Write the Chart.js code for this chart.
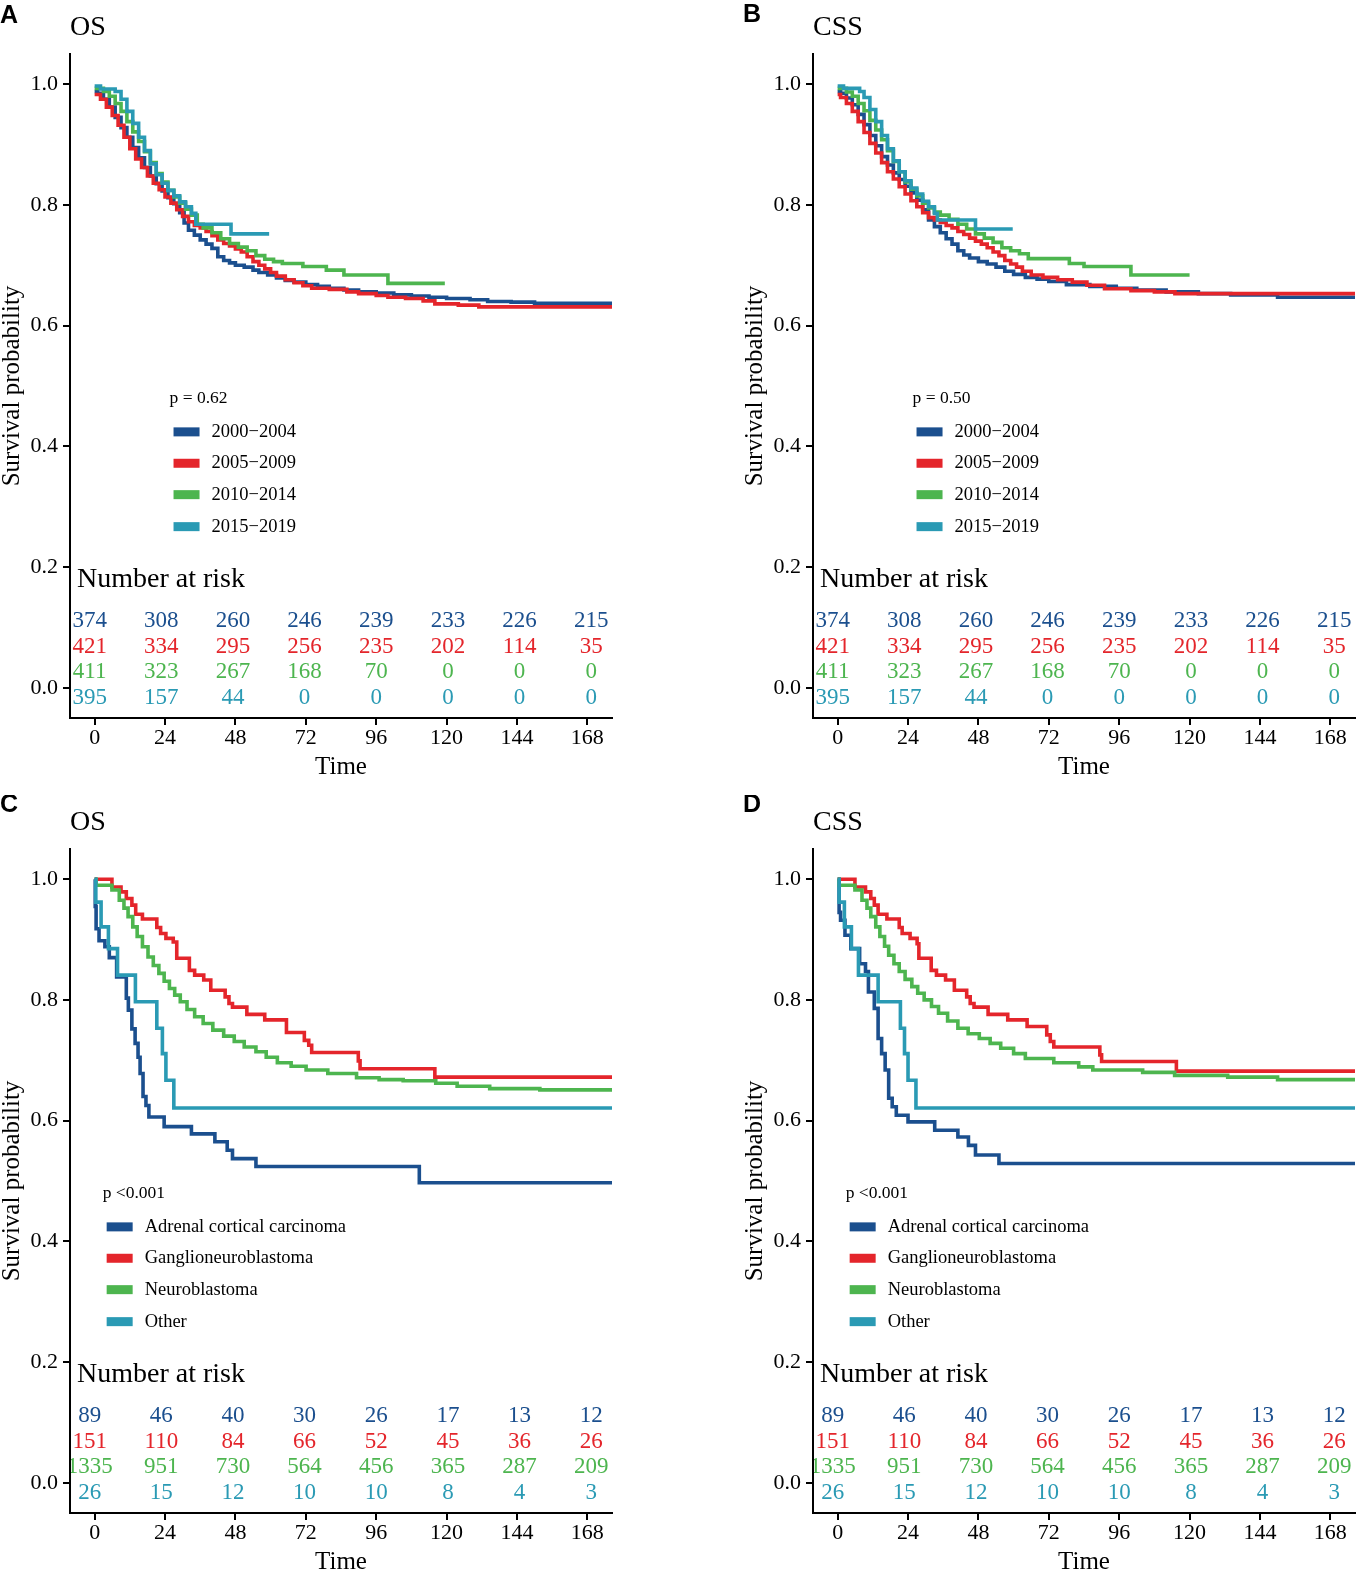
<!DOCTYPE html>
<html lang="en">
<head>
    <meta charset="UTF-8">
    <title>Kaplan-Meier curves</title>
    <style>
        html, body { margin: 0; padding: 0; background: #fff; overflow: hidden; }
        .page { position: relative; width: 1358px; height: 1570px; }
        .panel { position: absolute; }
    </style>
</head>
<body>
    <div class="page">
        <canvas class="panel" id="panelA" width="615" height="795" style="left:0;top:0"></canvas>
        <canvas class="panel" id="panelB" width="615" height="795" style="left:743px;top:0"></canvas>
        <canvas class="panel" id="panelC" width="615" height="795" style="left:0;top:795px"></canvas>
        <canvas class="panel" id="panelD" width="615" height="795" style="left:743px;top:795px"></canvas>
    </div>

    <script src="https://cdn.jsdelivr.net/npm/chart.js@4.4.0/dist/chart.umd.min.js"></script>
    <script>
        // Axis ticks
        const timeTicks = [0, 24, 48, 72, 96, 120, 144, 168];
        const probTicks = [0, 0.2, 0.4, 0.6, 0.8, 1.0];

        // Group labels
        const periodGroups = ['2000\u22122004', '2005\u22122009', '2010\u22122014', '2015\u22122019'];
        const histGroups = ['Adrenal cortical carcinoma', 'Ganglioneuroblastoma', 'Neuroblastoma', 'Other'];

        // Panel A - OS by period, [time, survival]
        const osP2000 = [[0,0.988],[1,0.985],[3,0.975],[5,0.962],[7,0.945],[9,0.928],[11,0.912],[13,0.895],[15,0.878],[17,0.862],[19,0.848],[21,0.835],[23,0.823],[25,0.812],[27,0.802],[29,0.787],[30.5,0.770],[32,0.758],[34,0.750],[36,0.742],[38,0.735],[40,0.728],[42,0.714],[44,0.708],[46,0.704],[48,0.700],[51,0.697],[54,0.692],[56,0.688],[59,0.684],[62,0.679],[65,0.675],[68,0.672],[72,0.668],[76,0.665],[80,0.662],[85,0.659],[90,0.656],[96,0.654],[102,0.651],[108,0.649],[114,0.647],[120,0.645],[128,0.643],[134,0.640],[142,0.639],[150,0.637],[176.4,0.637]];
        const osP2005 = [[0,0.983],[2,0.975],[4,0.962],[6,0.948],[8,0.932],[10,0.912],[12,0.893],[14,0.876],[16,0.862],[18,0.848],[20,0.836],[22,0.825],[24,0.813],[26,0.803],[28,0.792],[30,0.781],[32,0.772],[34,0.766],[36,0.762],[38,0.756],[40,0.749],[42,0.742],[44,0.736],[46,0.732],[48,0.727],[50,0.722],[52,0.714],[54,0.706],[56,0.700],[58,0.694],[60,0.688],[62,0.682],[65,0.676],[68,0.671],[71,0.666],[74,0.662],[80,0.660],[86,0.656],[90,0.653],[96,0.650],[100,0.647],[106,0.645],[112,0.641],[116,0.636],[124,0.634],[131,0.631],[176.4,0.631]];
        const osP2010 = [[0,0.993],[3,0.988],[5,0.980],[7,0.968],[9,0.955],[11,0.938],[13,0.921],[15,0.905],[17,0.888],[19,0.870],[21,0.852],[23,0.838],[25,0.824],[27,0.813],[29,0.803],[31,0.793],[33,0.783],[35,0.768],[37,0.762],[40,0.754],[43,0.744],[46,0.736],[49,0.730],[52,0.724],[55,0.716],[58,0.710],[61,0.706],[64,0.703],[71,0.698],[79,0.692],[85,0.684],[100,0.670],[119.4,0.670]];
        const osP2015 = [[0,0.997],[2,0.992],[7,0.988],[9,0.975],[11,0.955],[13,0.935],[15,0.912],[17,0.890],[19,0.868],[21,0.850],[23,0.836],[25,0.824],[27,0.815],[29,0.805],[31,0.797],[33,0.786],[34.5,0.768],[46.5,0.752],[59.5,0.752]];

        // Panel B - CSS by period
        const cssP2000 = [[0,0.988],[1,0.985],[3,0.977],[5,0.966],[7,0.950],[9,0.933],[11,0.915],[13,0.898],[15,0.880],[17,0.866],[19,0.853],[21,0.842],[23,0.831],[25,0.820],[27,0.808],[29,0.792],[31,0.775],[33,0.764],[35,0.754],[37,0.744],[39,0.735],[41,0.724],[43,0.717],[45,0.712],[48,0.706],[51,0.702],[54,0.697],[57,0.690],[60,0.685],[64,0.680],[68,0.677],[72,0.673],[78,0.668],[86,0.665],[95,0.662],[102,0.659],[112,0.656],[123,0.653],[134,0.651],[150,0.647],[176.4,0.647]];
        const cssP2005 = [[0,0.983],[1,0.978],[3,0.968],[5,0.955],[7,0.938],[9,0.920],[11,0.902],[13,0.886],[15,0.870],[17,0.855],[19,0.843],[21,0.830],[23,0.818],[25,0.807],[27,0.797],[29,0.787],[31,0.779],[33,0.775],[35,0.771],[37,0.766],[39,0.762],[41,0.756],[43,0.751],[45,0.745],[47,0.740],[49,0.735],[51,0.729],[53,0.722],[55,0.716],[57,0.708],[59,0.702],[61,0.697],[63,0.690],[66,0.684],[70,0.680],[75,0.676],[80,0.672],[85,0.667],[91,0.661],[100,0.658],[108,0.656],[115,0.653],[176.4,0.653]];
        const cssP2010 = [[0,0.993],[3,0.987],[5,0.980],[7,0.968],[9,0.956],[11,0.940],[13,0.924],[15,0.908],[17,0.890],[19,0.872],[21,0.855],[23,0.838],[25,0.826],[27,0.815],[29,0.803],[31,0.795],[33,0.788],[35,0.783],[38,0.776],[41,0.768],[44,0.760],[47,0.752],[50,0.745],[53,0.738],[56,0.729],[59,0.724],[62,0.719],[65,0.711],[79,0.703],[84,0.698],[100,0.684],[120,0.684]];
        const cssP2015 = [[0,0.997],[2,0.993],[7.5,0.988],[9,0.978],[11,0.958],[13,0.938],[15,0.915],[17,0.893],[19,0.873],[21,0.855],[23,0.840],[25,0.828],[27,0.818],[29,0.806],[31,0.797],[33,0.786],[34,0.775],[47,0.760],[59.7,0.760]];

        // Panel C - OS by histology
        const osAcc = [[0,1],[0.2,0.955],[0.5,0.918],[1.5,0.898],[3.5,0.888],[5,0.870],[7.5,0.838],[10.8,0.803],[11.5,0.783],[12.7,0.752],[13.8,0.728],[14.8,0.705],[15.5,0.678],[16.5,0.640],[17.5,0.625],[18.5,0.606],[23.7,0.590],[33,0.578],[41,0.565],[45.2,0.551],[47,0.537],[55,0.524],[110.7,0.497],[176.4,0.497]];
        const osGnb = [[0,1],[5.9,0.987],[9,0.979],[10.8,0.968],[12.7,0.957],[14,0.942],[16.3,0.934],[21.2,0.920],[22.5,0.910],[24.3,0.902],[26.8,0.896],[28,0.869],[32.3,0.849],[34.1,0.841],[37.2,0.833],[39.6,0.816],[44.5,0.805],[45.8,0.794],[47,0.788],[51.9,0.776],[58,0.767],[65.4,0.746],[71.5,0.733],[73,0.725],[74,0.713],[89.9,0.699],[90.5,0.686],[116,0.672],[176.4,0.672]];
        const osNb = [[0,1],[0.5,0.990],[5.9,0.982],[8.4,0.965],[10,0.952],[11.4,0.938],[13,0.921],[14.5,0.905],[16.3,0.888],[18.2,0.871],[20,0.857],[21.9,0.844],[23.7,0.831],[25.5,0.819],[27.3,0.808],[29.2,0.797],[31.5,0.784],[34.1,0.772],[37,0.761],[40.3,0.750],[44,0.740],[47.6,0.731],[51,0.722],[55,0.714],[58.5,0.705],[62.3,0.696],[67,0.690],[72.1,0.684],[79.5,0.678],[89.3,0.671],[97,0.668],[105.2,0.666],[116.3,0.662],[123.6,0.657],[134.7,0.653],[151.8,0.651],[176.4,0.651]];
        const osOther = [[0,1],[0.4,0.962],[2.2,0.921],[4.7,0.885],[7.8,0.841],[13.9,0.797],[21.2,0.753],[23.1,0.711],[24.3,0.667],[27,0.621],[176.4,0.621]];

        // Panel D - CSS by histology
        const cssAcc = [[0,1],[0.5,0.945],[1,0.932],[2.5,0.907],[4.5,0.885],[7.5,0.860],[9.5,0.847],[10.5,0.813],[12.5,0.786],[13.8,0.736],[15,0.711],[16.2,0.684],[17.4,0.637],[18.6,0.623],[20,0.609],[24,0.598],[33.1,0.584],[41,0.573],[44.6,0.559],[47,0.543],[55,0.529],[176.4,0.529]];
        const cssGnb = [[0,1],[5.9,0.987],[9.5,0.979],[11.3,0.968],[12.5,0.957],[13.8,0.942],[16.8,0.934],[21,0.920],[22,0.910],[24.7,0.902],[27.1,0.893],[27.7,0.869],[31.9,0.849],[33.7,0.841],[36.8,0.833],[39.8,0.816],[44,0.805],[45.2,0.794],[46.5,0.788],[51.3,0.776],[58,0.767],[64.6,0.756],[71.3,0.742],[72.5,0.731],[73.7,0.722],[89.4,0.709],[90,0.698],[115.5,0.682],[176.4,0.682]];
        const cssNb = [[0,1],[0.5,0.990],[5.9,0.982],[8.3,0.965],[10,0.952],[11.3,0.938],[13,0.921],[14.4,0.905],[16,0.889],[17.4,0.874],[19.2,0.860],[21,0.847],[23,0.834],[25.3,0.822],[27.3,0.811],[29.5,0.800],[32,0.789],[34.4,0.778],[37.5,0.765],[41,0.753],[44.5,0.744],[48.3,0.736],[52,0.728],[55.6,0.720],[60,0.711],[64,0.703],[73.7,0.696],[82.2,0.689],[87,0.684],[104,0.680],[114.9,0.675],[133,0.672],[150,0.668],[176.4,0.668]];
        const cssOther = [[0,1],[0.5,0.962],[2.3,0.921],[4.7,0.885],[7.1,0.841],[13.8,0.797],[21.4,0.753],[22.8,0.711],[24,0.667],[26.7,0.621],[176.4,0.621]];

        // Number at risk, one row per group, one value per time tick
        const riskPeriod = [
            [374, 308, 260, 246, 239, 233, 226, 215],
            [421, 334, 295, 256, 235, 202, 114, 35],
            [411, 323, 267, 168, 70, 0, 0, 0],
            [395, 157, 44, 0, 0, 0, 0, 0]
        ];
        const riskHist = [
            [89, 46, 40, 30, 26, 17, 13, 12],
            [151, 110, 84, 66, 52, 45, 36, 26],
            [1335, 951, 730, 564, 456, 365, 287, 209],
            [26, 15, 12, 10, 10, 8, 4, 3]
        ];

        const COLORS = ['#1B4F8E', '#E4252B', '#4DB54F', '#2A9AB4'];
        const SERIF = "'Liberation Serif', 'Times New Roman', serif";
        const SANS = "'Liberation Sans', Arial, sans-serif";

        // y positions (in survival units) of legend rows and risk rows
        const legendRowsY = [0.424, 0.372, 0.320, 0.267];
        const pValueY = 0.480;
        const riskTitleY = 0.180;
        const riskRowsY = [0.110, 0.068, 0.026, -0.016];
        // the risk table uses its own, slightly wider time axis
        const tableTime = t => -1.7 + t * 1.018;

        const panels = [
            { el: 'panelA', letter: 'A', letterY: 16, title: 'OS', curves: [osP2000, osP2005, osP2010, osP2015], groups: periodGroups, risk: riskPeriod, p: 'p = 0.62', legendT: 26.9 },
            { el: 'panelB', letter: 'B', letterY: 15, title: 'CSS', curves: [cssP2000, cssP2005, cssP2010, cssP2015], groups: periodGroups, risk: riskPeriod, p: 'p = 0.50', legendT: 26.9 },
            { el: 'panelC', letter: 'C', letterY: 10, title: 'OS', curves: [osAcc, osGnb, osNb, osOther], groups: histGroups, risk: riskHist, p: 'p <0.001', legendT: 4.1 },
            { el: 'panelD', letter: 'D', letterY: 10, title: 'CSS', curves: [cssAcc, cssGnb, cssNb, cssOther], groups: histGroups, risk: riskHist, p: 'p <0.001', legendT: 4.1 }
        ];

        // Draws p-value, legend, number-at-risk table and panel headings
        const kmOverlay = {
            id: 'kmOverlay',
            afterDatasetsDraw(chart, args, opts) {
                const { ctx, chartArea: ca } = chart;
                const x = chart.scales.x, y = chart.scales.y;
                ctx.save();
                ctx.beginPath();
                ctx.rect(ca.left + 1, ca.top, ca.right - ca.left, ca.bottom - ca.top - 1);
                ctx.clip();
                ctx.textBaseline = 'middle';
                ctx.textAlign = 'left';

                const lx = x.getPixelForValue(opts.legendT);
                ctx.fillStyle = '#000';
                ctx.font = '17.5px ' + SERIF;
                ctx.fillText(opts.p, lx - 4, y.getPixelForValue(pValueY));
                opts.groups.forEach((g, i) => {
                    const yy = y.getPixelForValue(legendRowsY[i]);
                    ctx.fillStyle = COLORS[i];
                    ctx.fillRect(lx, yy - 4.5, 26, 9);
                    ctx.fillStyle = '#000';
                    ctx.font = '18.5px ' + SERIF;
                    ctx.fillText(g, lx + 38, yy);
                });

                ctx.font = '28px ' + SERIF;
                ctx.fillText('Number at risk', ca.left + 7, y.getPixelForValue(riskTitleY));

                ctx.font = '23px ' + SERIF;
                ctx.textAlign = 'center';
                opts.risk.forEach((row, i) => {
                    ctx.fillStyle = COLORS[i];
                    row.forEach((n, j) => {
                        ctx.fillText(String(n), x.getPixelForValue(tableTime(timeTicks[j])), y.getPixelForValue(riskRowsY[i]));
                    });
                });
                ctx.restore();
            },
            afterDraw(chart, args, opts) {
                const ctx = chart.ctx;
                ctx.save();
                ctx.textBaseline = 'middle';
                ctx.textAlign = 'left';
                ctx.fillStyle = '#000';
                ctx.font = 'bold 25px ' + SANS;
                ctx.fillText(opts.letter, 0, opts.letterY);
                ctx.font = '28px ' + SERIF;
                ctx.fillText(opts.title, chart.chartArea.left, 28);
                ctx.restore();
            }
        };

        function makeChart(p) {
            const datasets = p.curves.map((c, i) => ({
                label: p.groups[i],
                data: c.map(([t, s]) => ({ x: t, y: s })),
                borderColor: COLORS[i],
                borderWidth: 3.6,
                stepped: 'before',
                pointRadius: 0,
                fill: false,
                order: 4 - i
            }));

            return new Chart(document.getElementById(p.el), {
                type: 'line',
                data: { datasets },
                plugins: [kmOverlay],
                options: {
                    responsive: false,
                    animation: false,
                    devicePixelRatio: 1,
                    layout: { padding: { top: 54, right: 3, left: 0, bottom: 0 } },
                    plugins: {
                        legend: { display: false },
                        tooltip: { enabled: false },
                        kmOverlay: { letter: p.letter, letterY: p.letterY, title: p.title, groups: p.groups, risk: p.risk, p: p.p, legendT: p.legendT }
                    },
                    scales: {
                        x: {
                            type: 'linear',
                            min: -8.4,
                            max: 176.4,
                            afterBuildTicks: s => { s.ticks = timeTicks.map(v => ({ value: v })); },
                            afterFit: s => { s.height = 77; },
                            ticks: { color: '#000', font: { family: SERIF, size: 22 }, padding: 0, maxRotation: 0, autoSkip: false },
                            grid: { drawOnChartArea: false, drawTicks: true, tickLength: 7, color: '#000', lineWidth: 2 },
                            border: { color: '#000', width: 2 },
                            title: { display: true, text: 'Time', color: '#000', font: { family: SERIF, size: 25, lineHeight: 1 }, padding: { top: 0, bottom: 15 } }
                        },
                        y: {
                            min: -0.05,
                            max: 1.05,
                            afterBuildTicks: s => { s.ticks = probTicks.map(v => ({ value: v })); },
                            afterFit: s => { s.width = 70; },
                            ticks: { color: '#000', font: { family: SERIF, size: 22 }, padding: 5, autoSkip: false, callback: v => v.toFixed(1) },
                            grid: { drawOnChartArea: false, drawTicks: true, tickLength: 7, color: '#000', lineWidth: 2 },
                            border: { color: '#000', width: 2 },
                            title: { display: true, text: 'Survival probability', color: '#000', font: { family: SERIF, size: 25, lineHeight: 1 }, padding: 0 }
                        }
                    }
                }
            });
        }

        panels.forEach(makeChart);
    </script>
</body>
</html>
